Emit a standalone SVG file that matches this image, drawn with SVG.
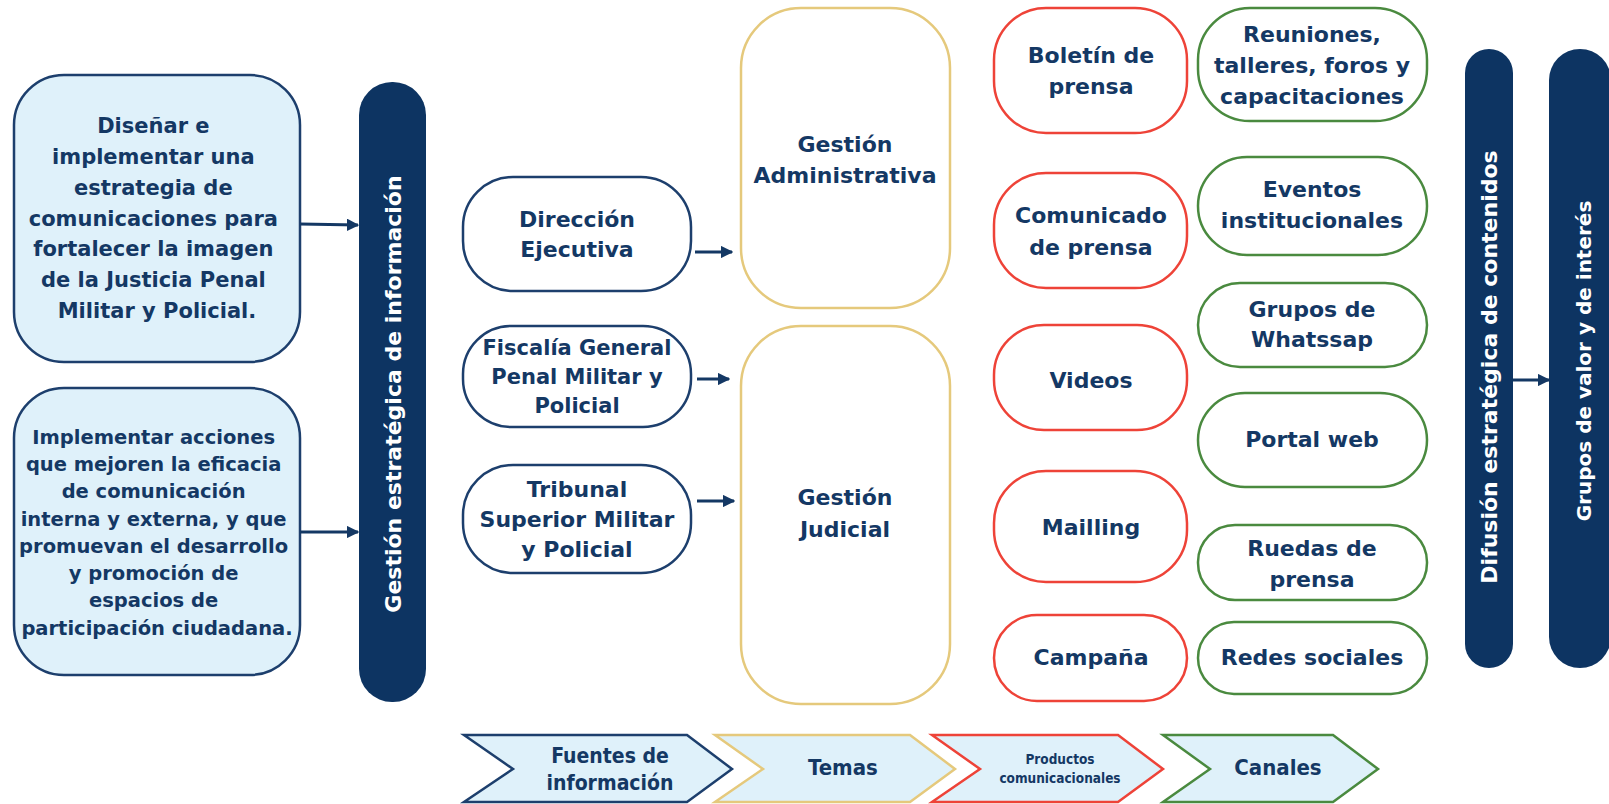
<svg xmlns="http://www.w3.org/2000/svg" width="1609" height="804" viewBox="0 0 1609 804">
<style>
text{font-family:"DejaVu Sans","Verdana",sans-serif;font-weight:bold;fill:#143864;text-anchor:middle}
.w{fill:#ffffff}
.obj{fill:#dff1fa;stroke:#1d3f6d;stroke-width:2.5}
.src{fill:#ffffff;stroke:#1d3f6d;stroke-width:2.5}
.tem{fill:#ffffff;stroke:#e5c97c;stroke-width:2.5}
.prd{fill:#ffffff;stroke:#ee4338;stroke-width:2.5}
.can{fill:#ffffff;stroke:#4a8a3f;stroke-width:2.5}
.pill{fill:#0d3462}
.chev{stroke-width:2.5}
.cond{font-family:"DejaVu Sans Condensed","DejaVu Sans",sans-serif}
.t22{font-size:22px}
.conn line{stroke:#143864;stroke-width:3;marker-end:url(#ah)}
</style>
<defs>
<marker id="ah" viewBox="0 0 10 10" refX="9" refY="5" markerWidth="4.2" markerHeight="4.2" orient="auto" markerUnits="strokeWidth">
<path d="M0,0 L10,5 L0,10 Z" fill="#143864"/>
</marker>
</defs>
<rect width="1609" height="804" fill="#ffffff"/>

<g id="obj1">
<rect class="obj" x="14" y="75" width="286" height="287" rx="50"/>
<text style="font-size:21px">
<tspan x="157" y="133">Diseñar e</tspan>
<tspan x="157" y="164">implementar una</tspan>
<tspan x="157" y="195">estrategia de</tspan>
<tspan x="157" y="226">comunicaciones para</tspan>
<tspan x="157" y="256">fortalecer la imagen</tspan>
<tspan x="157" y="287">de la Justicia Penal</tspan>
<tspan x="157" y="318">Militar y Policial.</tspan>
</text>
</g>

<g id="obj2">
<rect class="obj" x="14" y="388" width="286" height="287" rx="50"/>
<text style="font-size:19.5px">
<tspan x="157" y="444">Implementar acciones</tspan>
<tspan x="157" y="471">que mejoren la eficacia</tspan>
<tspan x="157" y="498">de comunicación</tspan>
<tspan x="157" y="526">interna y externa, y que</tspan>
<tspan x="157" y="553">promuevan el desarrollo</tspan>
<tspan x="157" y="580">y promoción de</tspan>
<tspan x="157" y="607">espacios de</tspan>
<tspan x="157" y="635">participación ciudadana.</tspan>
</text>
</g>

<g id="gestion-estrategica">
<rect class="pill" x="359" y="82" width="67" height="620" rx="33"/>
<text class="w" style="font-size:22px" transform="translate(401,394) rotate(-90)">Gestión estratégica de información</text>
</g>

<g id="direccion">
<rect class="src" x="463" y="177" width="228" height="114" rx="50"/>
<text class="t22"><tspan x="577" y="227">Dirección</tspan><tspan x="577" y="257">Ejecutiva</tspan></text>
</g>
<g id="fiscalia">
<rect class="src" x="463" y="326" width="228" height="101" rx="48"/>
<text style="font-size:21px"><tspan x="577" y="355">Fiscalía General</tspan><tspan x="577" y="384">Penal Militar y</tspan><tspan x="577" y="413">Policial</tspan></text>
</g>
<g id="tribunal">
<rect class="src" x="463" y="465" width="228" height="108" rx="50"/>
<text class="t22"><tspan x="577" y="497">Tribunal</tspan><tspan x="577" y="527">Superior Militar</tspan><tspan x="577" y="557">y Policial</tspan></text>
</g>

<g id="gestion-administrativa">
<rect class="tem" x="741" y="8" width="209" height="300" rx="60"/>
<text class="t22"><tspan x="845" y="152">Gestión</tspan><tspan x="845" y="183">Administrativa</tspan></text>
</g>
<g id="gestion-judicial">
<rect class="tem" x="741" y="326" width="209" height="378" rx="60"/>
<text class="t22"><tspan x="845" y="505">Gestión</tspan><tspan x="845" y="537">Judicial</tspan></text>
</g>

<g id="boletin">
<rect class="prd" x="994" y="8" width="193" height="125" rx="52"/>
<text class="t22"><tspan x="1091" y="63">Boletín de</tspan><tspan x="1091" y="94">prensa</tspan></text>
</g>
<g id="comunicado">
<rect class="prd" x="994" y="173" width="193" height="115" rx="52"/>
<text class="t22"><tspan x="1091" y="223">Comunicado</tspan><tspan x="1091" y="255">de prensa</tspan></text>
</g>
<g id="videos">
<rect class="prd" x="994" y="325" width="193" height="105" rx="50"/>
<text class="t22" x="1091" y="388">Videos</text>
</g>
<g id="mailling">
<rect class="prd" x="994" y="471" width="193" height="111" rx="52"/>
<text class="t22" x="1091" y="535">Mailling</text>
</g>
<g id="campana">
<rect class="prd" x="994" y="615" width="193" height="86" rx="43"/>
<text class="t22" x="1091" y="665">Campaña</text>
</g>

<g id="reuniones">
<rect class="can" x="1198" y="8" width="229" height="113" rx="52"/>
<text class="t22"><tspan x="1312" y="42">Reuniones,</tspan><tspan x="1312" y="73">talleres, foros y</tspan><tspan x="1312" y="104">capacitaciones</tspan></text>
</g>
<g id="eventos">
<rect class="can" x="1198" y="157" width="229" height="98" rx="49"/>
<text class="t22"><tspan x="1312" y="197">Eventos</tspan><tspan x="1312" y="228">institucionales</tspan></text>
</g>
<g id="whatssap">
<rect class="can" x="1198" y="283" width="229" height="84" rx="42"/>
<text class="t22"><tspan x="1312" y="317">Grupos de</tspan><tspan x="1312" y="347">Whatssap</tspan></text>
</g>
<g id="portal">
<rect class="can" x="1198" y="393" width="229" height="94" rx="47"/>
<text class="t22" x="1312" y="447">Portal web</text>
</g>
<g id="ruedas">
<rect class="can" x="1198" y="525" width="229" height="75" rx="37"/>
<text class="t22"><tspan x="1312" y="556">Ruedas de</tspan><tspan x="1312" y="587">prensa</tspan></text>
</g>
<g id="redes">
<rect class="can" x="1198" y="622" width="229" height="72" rx="36"/>
<text class="t22" x="1312" y="665">Redes sociales</text>
</g>

<g id="difusion">
<rect class="pill" x="1465" y="49" width="48" height="619" rx="24"/>
<text class="w" style="font-size:22px" transform="translate(1497,367) rotate(-90)">Difusión estratégica de contenidos</text>
</g>
<g id="grupos-valor">
<rect class="pill" x="1549" y="49" width="62" height="619" rx="31"/>
<text class="w" style="font-size:20px" transform="translate(1591,361) rotate(-90)">Grupos de valor y de interés</text>
</g>

<g id="fuentes">
<polygon class="chev" fill="#dff1fa" stroke="#1d3f6d" points="464,735 687,735 732,769 687,802 464,802 513,769"/>
<text class="cond" style="font-size:21px"><tspan x="610" y="763">Fuentes de</tspan><tspan x="610" y="790">información</tspan></text>
</g>
<g id="temas">
<polygon class="chev" fill="#dff1fa" stroke="#e5c97c" points="715,735 910,735 955,769 910,802 715,802 763,769"/>
<text class="cond" style="font-size:22px" x="843" y="775">Temas</text>
</g>
<g id="productos">
<polygon class="chev" fill="#dff1fa" stroke="#ee4338" points="932,735 1118,735 1163,769 1118,802 932,802 980,769"/>
<text class="cond" style="font-size:13.5px"><tspan x="1060" y="764">Productos</tspan><tspan x="1060" y="783">comunicacionales</tspan></text>
</g>
<g id="canales">
<polygon class="chev" fill="#dff1fa" stroke="#4a8a3f" points="1163,735 1333,735 1378,769 1333,802 1163,802 1210,769"/>
<text class="cond" style="font-size:22px" x="1278" y="775">Canales</text>
</g>

<g id="connectors" class="conn">
<line x1="300" y1="224" x2="358" y2="225"/>
<line x1="300" y1="532" x2="358" y2="532"/>
<line x1="695" y1="252" x2="732" y2="252"/>
<line x1="697" y1="379" x2="729" y2="379"/>
<line x1="697" y1="501" x2="734" y2="501"/>
<line x1="1513" y1="380" x2="1549" y2="380"/>
</g>
</svg>
